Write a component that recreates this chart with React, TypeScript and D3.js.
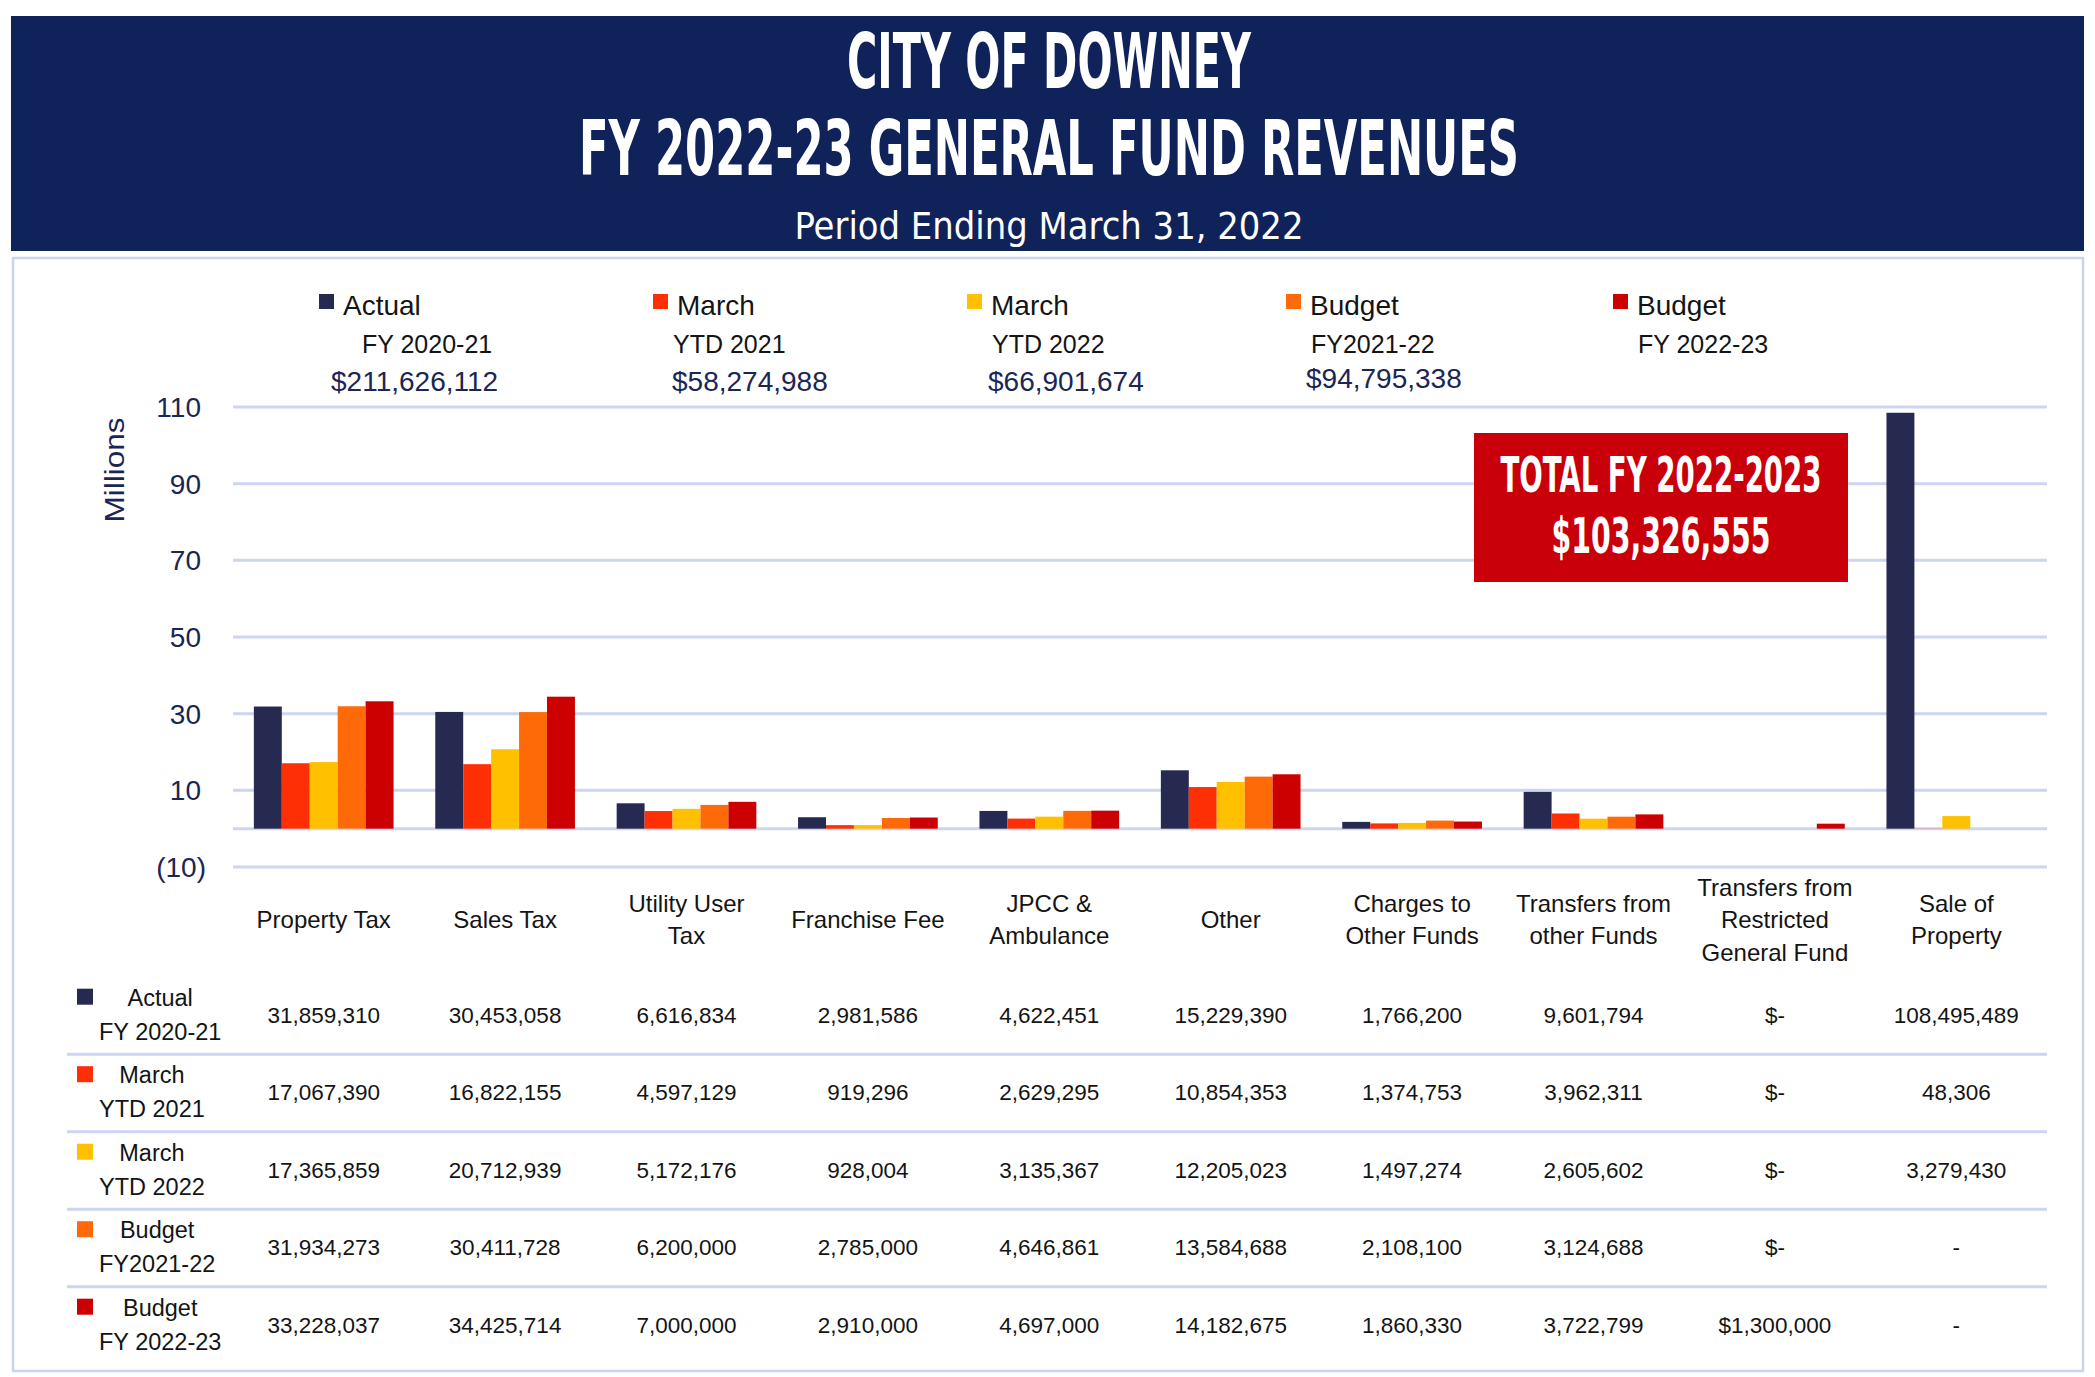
import { useEffect, useRef } from 'react';
import * as d3 from 'd3';

const categories = [
  'Property Tax',
  'Sales Tax',
  'Utility User Tax',
  'Franchise Fee',
  'JPCC & Ambulance',
  'Other',
  'Charges to Other Funds',
  'Transfers from other Funds',
  'Transfers from Restricted General Fund',
  'Sale of Property',
];
const categoryLines = [
  ['Property Tax'],
  ['Sales Tax'],
  ['Utility User', 'Tax'],
  ['Franchise Fee'],
  ['JPCC &', 'Ambulance'],
  ['Other'],
  ['Charges to', 'Other Funds'],
  ['Transfers from', 'other Funds'],
  ['Transfers from', 'Restricted', 'General Fund'],
  ['Sale of', 'Property'],
];
// columns shown as currency ("$-" when zero)
const dollarColumns = ['Transfers from Restricted General Fund'];

const seriesKeys = ['actual2021', 'march2021', 'march2022', 'budget2122', 'budget2223'];
const seriesLine1 = ['Actual', 'March', 'March', 'Budget', 'Budget'];
const seriesLine2 = ['FY 2020-21', 'YTD 2021', 'YTD 2022', 'FY2021-22', 'FY 2022-23'];
const seriesTotals = ['$211,626,112', '$58,274,988', '$66,901,674', '$94,795,338', ''];
const seriesColors = ['#262a50', '#fe2e05', '#ffc000', '#fe6a08', '#cc0000'];

const actual2021 = [31859310, 30453058, 6616834, 2981586, 4622451, 15229390, 1766200, 9601794, 0, 108495489];
const march2021 = [17067390, 16822155, 4597129, 919296, 2629295, 10854353, 1374753, 3962311, 0, 48306];
const march2022 = [17365859, 20712939, 5172176, 928004, 3135367, 12205023, 1497274, 2605602, 0, 3279430];
const budget2122 = [31934273, 30411728, 6200000, 2785000, 4646861, 13584688, 2108100, 3124688, 0, null];
const budget2223 = [33228037, 34425714, 7000000, 2910000, 4697000, 14182675, 1860330, 3722799, 1300000, null];
const seriesValues = [actual2021, march2021, march2022, budget2122, budget2223];

const yTicks = [-10, 10, 30, 50, 70, 90, 110];
const gridValues = [-10, 0, 10, 30, 50, 70, 90, 110];

const totalLabel = ['TOTAL FY 2022-2023', '$103,326,555'];

const W = 2095;
const H = 1377;
const NAVY = '#10225a';
const GRID = '#cdd5ef';
const TEXT = '#141414';
const AXIS_TEXT = '#1c2654';
const SANS = '"Liberation Sans", Arial, sans-serif';
const NARROW = '"Liberation Sans Narrow", "DejaVu Sans Condensed", "Liberation Sans", sans-serif';

// legend layout: square x, second line x, total x
const legendLayout = [
  { sq: 319, l2: 362, v: 331 },
  { sq: 653, l2: 673, v: 672 },
  { sq: 967, l2: 992, v: 988 },
  { sq: 1286, l2: 1311, v: 1306 },
  { sq: 1613, l2: 1638, v: 1638 },
];

export default function App() {
  const svgRef = useRef<SVGSVGElement>(null);

  useEffect(() => {
    document.body.style.margin = '0';
    if (!svgRef.current) return;
    const svg = d3.select(svgRef.current);
    svg.selectAll('*').remove();

    svg.append('rect').attr('width', W).attr('height', H).attr('fill', '#ffffff');

    // header band
    svg.append('rect').attr('x', 11).attr('y', 16).attr('width', 2073).attr('height', 235).attr('fill', NAVY);
    const titles = [
      { t: 'CITY OF DOWNEY', y: 88, len: 404, size: 76 },
      { t: 'FY 2022-23 GENERAL FUND REVENUES', y: 175, len: 940, size: 76 },
    ];
    titles.forEach((d) => {
      svg
        .append('text')
        .attr('x', 1049)
        .attr('y', d.y)
        .attr('text-anchor', 'middle')
        .attr('textLength', d.len)
        .attr('lengthAdjust', 'spacingAndGlyphs')
        .style('font-family', NARROW)
        .style('font-weight', 700)
        .style('font-size', `${d.size}px`)
        .style('fill', '#ffffff')
        .text(d.t);
    });
    svg
      .append('text')
      .attr('x', 1049)
      .attr('y', 239)
      .attr('text-anchor', 'middle')
      .attr('textLength', 509)
      .attr('lengthAdjust', 'spacingAndGlyphs')
      .style('font-family', NARROW)
      .style('font-size', '37px')
      .style('fill', '#ffffff')
      .text('Period Ending March 31, 2022');

    // chart frame
    svg
      .append('rect')
      .attr('x', 13)
      .attr('y', 258)
      .attr('width', 2070)
      .attr('height', 1113)
      .attr('fill', 'none')
      .attr('stroke', '#cbd4ee')
      .attr('stroke-width', 2.5);

    // scales
    const x0 = d3.scaleBand<string>().domain(categories).range([233, 2047]).paddingInner(0.23).paddingOuter(0.115);
    const x1 = d3.scaleBand<string>().domain(seriesKeys).range([0, x0.bandwidth()]).padding(0);
    const y = d3.scaleLinear().domain([-10, 110]).range([867, 407]);
    const color = d3.scaleOrdinal<string, string>().domain(seriesKeys).range(seriesColors);

    // gridlines
    svg
      .append('g')
      .selectAll('line')
      .data(gridValues)
      .enter()
      .append('line')
      .attr('x1', 233)
      .attr('x2', 2047)
      .attr('y1', (d) => y(d))
      .attr('y2', (d) => y(d))
      .attr('stroke', GRID)
      .attr('stroke-width', 3);

    // y tick labels
    svg
      .append('g')
      .selectAll('text')
      .data(yTicks)
      .enter()
      .append('text')
      .attr('x', (d) => (d < 0 ? 206 : 201))
      .attr('y', (d) => y(d))
      .attr('dy', '0.36em')
      .attr('text-anchor', 'end')
      .style('font-family', SANS)
      .style('font-size', '28px')
      .style('fill', AXIS_TEXT)
      .text((d) => (d < 0 ? `(${Math.abs(d)})` : `${d}`));

    svg
      .append('text')
      .attr('transform', 'translate(124,470) rotate(-90)')
      .attr('text-anchor', 'middle')
      .attr('textLength', 105)
      .attr('lengthAdjust', 'spacingAndGlyphs')
      .style('font-family', SANS)
      .style('font-size', '28px')
      .style('fill', AXIS_TEXT)
      .text('Millions');

    // bars
    const barData = categories.flatMap((c, ci) =>
      seriesKeys.map((k, si) => ({ c, k, v: seriesValues[si][ci] }))
    ).filter((d) => d.v != null && d.v > 0);
    svg
      .append('g')
      .selectAll('rect')
      .data(barData)
      .enter()
      .append('rect')
      .attr('x', (d) => (x0(d.c) ?? 0) + (x1(d.k) ?? 0))
      .attr('y', (d) => y((d.v as number) / 1e6))
      .attr('width', x1.bandwidth())
      .attr('height', (d) => y(0) - y((d.v as number) / 1e6))
      .attr('fill', (d) => color(d.k));

    // category labels
    categories.forEach((c, ci) => {
      const lines = categoryLines[ci];
      const cx = (x0(c) ?? 0) + x0.bandwidth() / 2;
      lines.forEach((ln, li) => {
        svg
          .append('text')
          .attr('x', cx)
          .attr('y', 928 + (li - (lines.length - 1) / 2) * 32.5)
          .attr('text-anchor', 'middle')
          .style('font-family', SANS)
          .style('font-size', '24px')
          .style('fill', TEXT)
          .text(ln);
      });
    });

    // legend
    seriesKeys.forEach((k, i) => {
      const L = legendLayout[i];
      svg.append('rect').attr('x', L.sq).attr('y', 294).attr('width', 15).attr('height', 15).attr('fill', color(k));
      svg
        .append('text')
        .attr('x', L.sq + 24)
        .attr('y', 315)
        .style('font-family', SANS)
        .style('font-size', '28px')
        .style('fill', TEXT)
        .text(seriesLine1[i]);
      svg
        .append('text')
        .attr('x', L.l2)
        .attr('y', 353)
        .style('font-family', SANS)
        .style('font-size', '25px')
        .style('fill', TEXT)
        .text(seriesLine2[i]);
      if (seriesTotals[i]) {
        svg
          .append('text')
          .attr('x', L.v)
          .attr('y', i === 3 ? 388 : 391)
          .style('font-family', SANS)
          .style('font-size', '28px')
          .style('fill', AXIS_TEXT)
          .text(seriesTotals[i]);
      }
    });

    // total box
    svg.append('rect').attr('x', 1474).attr('y', 433).attr('width', 374).attr('height', 149).attr('fill', '#c9000a');
    [
      { t: totalLabel[0], y: 492, len: 321 },
      { t: totalLabel[1], y: 553, len: 219 },
    ].forEach((d) => {
      svg
        .append('text')
        .attr('x', 1661)
        .attr('y', d.y)
        .attr('text-anchor', 'middle')
        .attr('textLength', d.len)
        .attr('lengthAdjust', 'spacingAndGlyphs')
        .style('font-family', NARROW)
        .style('font-weight', 700)
        .style('font-size', '50px')
        .style('fill', '#ffffff')
        .text(d.t);
    });

    // data table
    const rowBase = 1022.7;
    const rowStep = 77.5;
    const fmt = d3.format(',');
    seriesKeys.forEach((k, si) => {
      const yv = rowBase + si * rowStep;
      svg.append('rect').attr('x', 77).attr('y', yv - 34).attr('width', 16).attr('height', 16).attr('fill', color(k));
      const l2 = svg
        .append('text')
        .attr('x', 99)
        .attr('y', yv + 17)
        .style('font-family', SANS)
        .style('font-size', '23.5px')
        .style('fill', TEXT)
        .text(seriesLine2[si]);
      const w2 = (l2.node() as SVGTextElement).getComputedTextLength();
      svg
        .append('text')
        .attr('x', 99 + w2 / 2)
        .attr('y', yv - 17)
        .attr('text-anchor', 'middle')
        .style('font-family', SANS)
        .style('font-size', '23.5px')
        .style('fill', TEXT)
        .text(seriesLine1[si]);

      categories.forEach((c, ci) => {
        const v = seriesValues[si][ci];
        const label = v == null ? '-' : dollarColumns.includes(c) ? (v === 0 ? '$-' : `$${fmt(v)}`) : fmt(v);
        svg
          .append('text')
          .attr('x', (x0(c) ?? 0) + x0.bandwidth() / 2)
          .attr('y', yv)
          .attr('text-anchor', 'middle')
          .style('font-family', SANS)
          .style('font-size', '22.5px')
          .style('fill', TEXT)
          .text(label);
      });

      if (si < seriesKeys.length - 1) {
        const ys = yv + 31.5;
        svg
          .append('line')
          .attr('x1', 67)
          .attr('x2', 2047)
          .attr('y1', ys)
          .attr('y2', ys)
          .attr('stroke', GRID)
          .attr('stroke-width', 3);
      }
    });
  }, []);

  return (
    <svg
      ref={svgRef}
      width={W}
      height={H}
      style={{ position: 'absolute', left: 0, top: 0, display: 'block' }}
    />
  );
}
